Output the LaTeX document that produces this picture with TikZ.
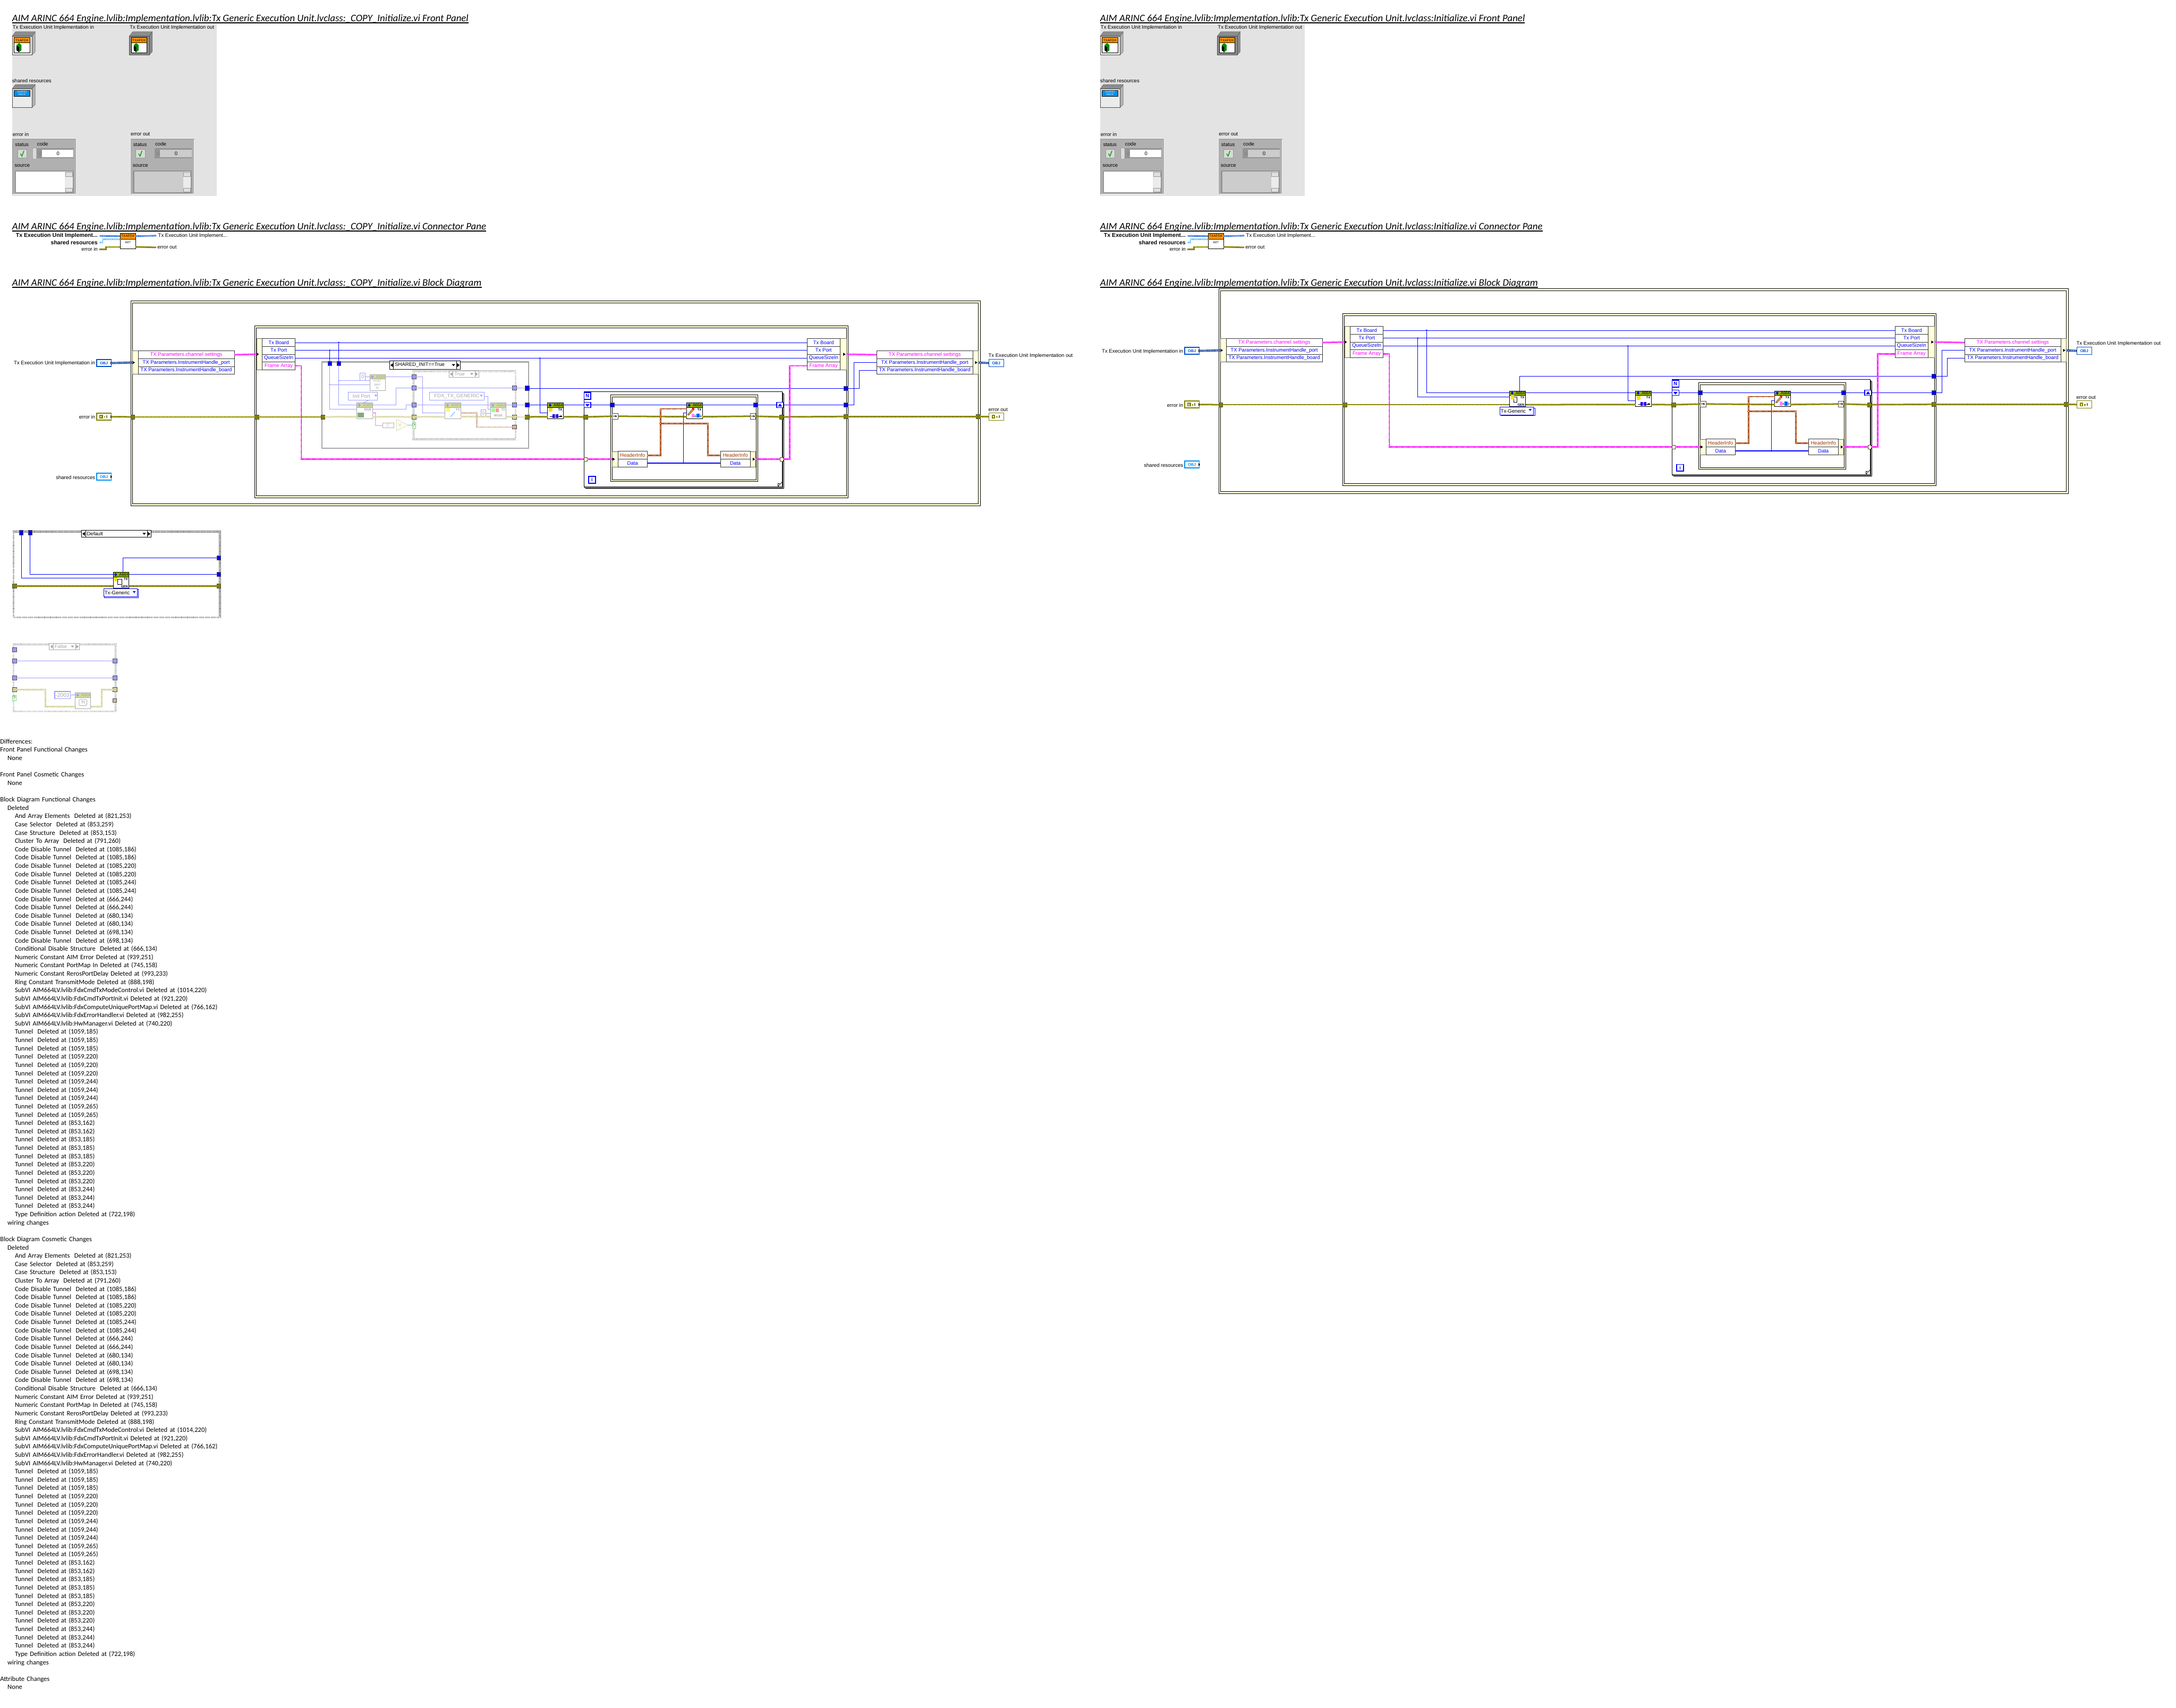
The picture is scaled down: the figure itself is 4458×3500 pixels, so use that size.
\documentclass[tikz,border=0pt]{standalone}
\usepackage{fontspec}
\setmainfont{Carlito}
\newfontfamily\lvfont{Liberation Sans}
\definecolor{lvblue}{HTML}{0000FF}
\definecolor{lvpale}{HTML}{9C9CFF}
\definecolor{lvpink}{HTML}{FF00FF}
\definecolor{lvbrown}{HTML}{A03C00}
\definecolor{lvolive}{HTML}{808000}
\definecolor{lvband}{HTML}{FFFFD8}
\definecolor{lvorange}{HTML}{FF9900}
\definecolor{lvgreen}{HTML}{8FB000}
\definecolor{lvgreenpale}{HTML}{D0DC98}
\definecolor{lvclass}{HTML}{0050D0}
\definecolor{lvshared}{HTML}{0090F0}
\definecolor{lvgrey}{HTML}{A8A8A8}
\definecolor{fpgrey}{HTML}{E3E3E3}
\definecolor{clustergrey}{HTML}{B0B0B0}
\definecolor{paleolive}{HTML}{D2D296}
\tikzset{
	every node/.style={inner sep=0pt,outer sep=0pt},
	titletext/.style={anchor=base west,font=\itshape\fontsize{20.5}{23}\selectfont},
	titleline/.style={black,line width=2pt},
	listtext/.style={anchor=north west,align=left,text width=700pt,font=\fontsize{13.7}{17}\selectfont},
	lvtext/.style={font=\lvfont\fontsize{10.4}{12}\selectfont},
	lvbold/.style={font=\lvfont\bfseries\fontsize{11.5}{13}\selectfont},
	cell/.style={draw=black!80,fill=white,line width=1pt,lvtext,anchor=north west,minimum width=#1pt,minimum height=16pt},
	strip/.style={draw=black!60,fill=lvband,line width=.6pt,anchor=north west,minimum width=#1pt},
	termobj/.style={draw=#1,text=#1,fill=white,line width=2pt,minimum width=30pt,minimum height=14pt,font=\lvfont\bfseries\fontsize{8}{9}\selectfont},
	termout/.style={draw=#1,text=#1,fill=white,line width=1pt,minimum width=31pt,minimum height=15pt,font=\lvfont\bfseries\fontsize{8}{9}\selectfont},
	tunnel/.style={draw=black!70,fill=#1,line width=.6pt,minimum width=8pt,minimum height=9pt},
	junc/.style={circle,fill=#1,minimum size=3.4pt},
	frameband/.style={draw=black,fill=lvband,line width=1pt},
	frameinner/.style={draw=black,fill=white,line width=1pt},
	hatchframe/.style={draw=#1,line width=3.8pt,fill=white,postaction={draw=white,line width=3pt,dash pattern=on 1.2pt off 1.2pt}},
	bluewire/.style={lvblue,line width=1pt},
	datawire/.style={lvblue,line width=2.2pt},
	palewire/.style={lvpale,line width=1pt},
	errwire/.style={draw=lvolive!85!black,line width=3pt,postaction={draw=yellow,line width=1pt,dash pattern=on 1pt off 1.5pt}},
	paleerr/.style={draw=paleolive,line width=3pt,postaction={draw=white,line width=1pt,dash pattern=on 1.5pt off 1.5pt}},
	clusterwire/.style={draw=lvpink,line width=3pt,postaction={draw=white,line width=1pt,dash pattern=on 1.5pt off 1.5pt}},
	palecluster/.style={draw=lvpink!40,line width=2.6pt,postaction={draw=white,line width=1pt,dash pattern=on 1.5pt off 1.5pt}},
	brownwire/.style={draw=lvbrown,line width=3pt,postaction={draw=white,line width=1pt,dash pattern=on 1.5pt off 1.5pt}},
	palebrown/.style={draw=lvbrown!40,line width=2.6pt,postaction={draw=white,line width=1pt,dash pattern=on 1.5pt off 1.5pt}},
	classwire/.style={draw=lvclass!70!black,line width=4pt,postaction={draw=white,line width=1.4pt,dash pattern=on 2pt off 1.5pt}},
	sharedwire/.style={draw=lvshared!60,line width=3pt,postaction={draw=white,line width=1pt,dash pattern=on 2pt off 1.5pt}},
	vibody/.style={draw=#1,fill=white,line width=1pt,anchor=north west,minimum width=32pt,minimum height=32pt},
	vihead/.style={font=\lvfont\fontsize{8}{9}\selectfont},
	visub/.style={font=\lvfont\bfseries\fontsize{6.5}{7.5}\selectfont},
	ringbox/.style={draw=#1,fill=white,line width=1.4pt,anchor=north west,minimum height=16pt},
	selbox/.style={draw=#1,fill=white,line width=1pt,anchor=north west},
	iterbox/.style={draw=lvblue,fill=white,line width=1.6pt,text=lvblue,font=\lvfont\bfseries\fontsize{10}{12}\selectfont},
	flipbox/.style={draw=black!70,fill=white,line width=.8pt,anchor=north west,minimum width=12pt,minimum height=12pt},
	arrowtip/.style={-{Stealth[length=3.5pt,width=4pt]},black,line width=1pt}
}
\usetikzlibrary{arrows.meta,calc}
% 32x32 subVI with its coloured head
\newcommand{\viblock}[6]{
	\node[vibody=#5] (#1) at (#2,#3) {};
	\fill[#4] (#1.north west) rectangle ++(32,9);
	\draw[#5,line width=1pt] (#1.north west) rectangle ++(32,9);
	\fill[#6] ($(#1.north west)+(2,4.5)$) -- ++(3,-3.2) -- ++(3,3.2) -- ++(-3,3.2) -- cycle;
	\node[vihead,text=#5,anchor=east] (#1h) at ($(#1.north east)+(-1,4.7)$) {A664};
}
% case selector with its two arrows
\newcommand{\casesel}[7]{
	\node[selbox=#7,minimum width=#4pt,minimum height=#5pt] (#1) at (#2,#3) {};
	\node[lvtext,anchor=west,text=#7] (#1t) at ($(#1.west)+(11,0)$) {#6};
	\draw[#7] ($(#1.north west)+(8,0)$) -- ($(#1.south west)+(8,0)$);
	\draw[#7] ($(#1.north east)+(-8,0)$) -- ($(#1.south east)+(-8,0)$);
	\fill[#7] ($(#1.west)+(2,0)$) -- ++(5,-4) -- ++(0,8) -- cycle;
	\fill[#7] ($(#1.east)+(-2,0)$) -- ++(-5,-4) -- ++(0,8) -- cycle;
	\fill[#7] ($(#1.east)+(-18,-2)$) -- ++(7,0) -- ++(-3.5,4) -- cycle;
}
\newcommand{\dntri}[3]{\fill[#3] (#1-3,#2-2) -- (#1+3,#2-2) -- (#1,#2+2) -- cycle;}
\newcommand{\termtip}[2]{\fill (#1.#2) ++(-1.5,-3) -- ++(3,3) -- ++(-3,3) -- cycle;}
\newcommand{\errglyph}[2]{
	\fill[#2] ($(#1.center)+(-9,-4)$) rectangle ++(7,8);
	\fill[white] ($(#1.center)+(-7,-2)$) rectangle ++(2,4);
	\fill[#2] ($(#1.center)+(0,-1)$) rectangle ++(3,3);
	\fill[#2] ($(#1.center)+(5,-3)$) rectangle ++(2,6);
}
% front panel box with one icon
\newcommand{\boxctl}[4]{
	\draw[black!70,fill=black!45] (#1,#2+9) -- (#1+7,#2) -- (#1+47,#2) -- (#1+41,#2+9) -- cycle;
	\draw[black!70,fill=#4] (#1+41,#2+9) -- (#1+47,#2) -- (#1+47,#2+41) -- (#1+41,#2+47) -- cycle;
	\draw[black!70,fill=#3] (#1,#2+9) rectangle (#1+41,#2+47);
}
\newcommand{\txicon}[2]{
	\node[draw=black,fill=white,line width=.8pt,anchor=north west,minimum width=32pt,minimum height=31pt] (#2) at (#1+4,77) {};
	\node[draw=black,fill=lvorange,line width=.8pt,anchor=north west,minimum width=32pt,minimum height=11pt,font=\lvfont\fontsize{7}{8}\selectfont] (#2h) at (#1+4,77) {TXAFDX};
	\fill[green!55!black] (#1+9,92) -- (#1+14,88.5) -- (#1+19,92) -- (#1+19,103) -- (#1+14,107) -- (#1+9,103) -- cycle;
	\fill[black] (#1+9,94) -- (#1+14,96.5) -- (#1+14,107) -- (#1+9,103) -- cycle;
}
% error cluster of the front panel
\newcommand{\errcluster}[4]{
	\node[lvtext,anchor=west] (#4lbl) at (#1+1,275) {#3};
	\draw[black!5,fill=clustergrey,line width=1.5pt] (#1,284) rectangle (#1+131,398);
	\draw[black!35,line width=1.5pt] (#1+1,398) -- (#1+1,285) -- (#1+131,285);
	\node[lvtext,anchor=west] (#4st) at (#1+6,296) {status};
	\node[lvtext,anchor=west] (#4cd) at (#1+51,295) {code};
	\node[draw=black!40,fill=black!15,anchor=north west,minimum width=19pt,minimum height=17pt] (#4chk) at (#1+11,306) {};
	\draw[green!65!black,line width=1.6pt] (#1+17,315) -- (#1+20,320) -- (#1+24,309);
	\fill[black!42] (#1+50,304) rectangle (#1+126,324);
	\node[fill=#2,anchor=north west,minimum width=65pt,minimum height=15pt,lvtext,align=left] (#4num) at (#1+60.5,307) {\,0};
	\node[lvtext,text=black!50,anchor=east] (#4d) at (#1+60,314.5) {d};
	\node[lvtext,anchor=west] (#4src) at (#1+5,340) {source};
	\fill[black!42] (#1+5,349) rectangle (#1+126,396);
	\fill[#2] (#1+8,352) rectangle (#1+108,394);
	\fill[black!8] (#1+108,352) rectangle (#1+124,394);
	\draw[black!40,fill=black!12] (#1+109,353) rectangle (#1+123,361);
	\draw[black!40,fill=black!12] (#1+109,385) rectangle (#1+123,393);
}
\newcommand{\rw}[1]{\hspace*{30pt}#1\\}
\newcommand{\cdt}[1]{\rw{Code Disable Tunnel~ Deleted at (#1)}\rw{Code Disable Tunnel~ Deleted at (#1)}}
\newcommand{\tun}[1]{\rw{Tunnel~ Deleted at (#1)}}
\newcommand{\delrows}{%
	\hspace*{15pt}Deleted\\
	\rw{And Array Elements~ Deleted at (821,253)}
	\rw{Case Selector~ Deleted at (853,259)}
	\rw{Case Structure~ Deleted at (853,153)}
	\rw{Cluster To Array~ Deleted at (791,260)}
	\cdt{1085,186}\cdt{1085,220}\cdt{1085,244}\cdt{666,244}\cdt{680,134}\cdt{698,134}
	\rw{Conditional Disable Structure~ Deleted at (666,134)}
	\rw{Numeric Constant AIM Error Deleted at (939,251)}
	\rw{Numeric Constant PortMap In Deleted at (745,158)}
	\rw{Numeric Constant RerosPortDelay Deleted at (993,233)}
	\rw{Ring Constant TransmitMode Deleted at (888,198)}
	\rw{SubVI AIM664LV.lvlib:FdxCmdTxModeControl.vi Deleted at (1014,220)}
	\rw{SubVI AIM664LV.lvlib:FdxCmdTxPortInit.vi Deleted at (921,220)}
	\rw{SubVI AIM664LV.lvlib:FdxComputeUniquePortMap.vi Deleted at (766,162)}
	\rw{SubVI AIM664LV.lvlib:FdxErrorHandler.vi Deleted at (982,255)}
	\rw{SubVI AIM664LV.lvlib:HwManager.vi Deleted at (740,220)}
	\tun{1059,185}\tun{1059,185}\tun{1059,185}
	\tun{1059,220}\tun{1059,220}\tun{1059,220}
	\tun{1059,244}\tun{1059,244}\tun{1059,244}
	\tun{1059,265}\tun{1059,265}
	\tun{853,162}\tun{853,162}
	\tun{853,185}\tun{853,185}\tun{853,185}
	\tun{853,220}\tun{853,220}\tun{853,220}
	\tun{853,244}\tun{853,244}\tun{853,244}
	\rw{Type Definition action Deleted at (722,198)}
	\hspace*{15pt}wiring changes\\
}
\begin{document}
\begin{tikzpicture}[x=1pt,y=-1pt]
	\useasboundingbox (0,0) rectangle (4458,3500);

	% titles
	\foreach \tx/\cpy/\tv in {25/{:\_COPY\_}/a,2254/{:}/b}{
		\foreach \ty/\what/\ts in {44/Front Panel/f,471/Connector Pane/c,586.4/Block Diagram/d}{
			\node[titletext] (title\ts\tv) at (\tx,\ty) {AIM ARINC 664 Engine.lvlib:Implementation.lvlib:Tx Generic Execution Unit.lvclass\cpy Initialize.vi \what};
			\draw[titleline] ([yshift=-2.6pt]title\ts\tv.base west) -- ([yshift=-2.6pt]title\ts\tv.base east);
		}
	}

	% front panel and connector pane, same on both sides
	\foreach \ox/\vn in {0/a,2229/b}{
	\begin{scope}[xshift=\ox pt]
		\fill[fpgrey] (25,49) rectangle (444,402);
		\node[lvtext,anchor=west] (fptxin\vn) at (26,57) {Tx Execution Unit Implementation in};
		\node[lvtext,anchor=west] (fptxout\vn) at (266,57) {Tx Execution Unit Implementation out};
		\boxctl{25}{65}{black!8}{black!30}
		\txicon{25}{icona\vn}
		\boxctl{265}{65}{black!45}{black!45}
		\txicon{265}{iconb\vn}
		\node[lvtext,anchor=west] (fpshared\vn) at (25,165) {shared resources};
		\boxctl{25}{173}{black!8}{black!30}
		\node[draw=black,fill=lvshared,text=white,anchor=north west,minimum width=32pt,minimum height=12pt,align=center,font=\lvfont\fontsize{5}{5.4}\selectfont] (iconshared\vn) at (29,185) {SHARED\\RSCS};
		\errcluster{25}{white}{error in}{erri\vn}
		\errcluster{267}{black!20}{error out}{erro\vn}
		\draw[black!45,fill=black!15,rounded corners=2pt] (67,303) rectangle (75,326);
		% connector pane
		\node[lvbold,anchor=east] (cptxin\vn) at (200,483) {Tx Execution Unit Implement...};
		\node[lvbold,anchor=east] (cpshared\vn) at (200,497) {shared resources};
		\node[lvtext,anchor=east] (cperrin\vn) at (200,511) {error in};
		\node[lvtext,anchor=west] (cptxout\vn) at (324,483) {Tx Execution Unit Implement...};
		\node[lvtext,anchor=west] (cperrout\vn) at (322.5,507) {error out};
		\node[draw=black,fill=white,line width=1pt,anchor=north west,minimum width=32pt,minimum height=32pt,font=\lvfont\fontsize{6}{7}\selectfont] (cpicon\vn) at (246,478) {\raisebox{-9pt}{INIT}};
		\node[draw=black,fill=lvorange,line width=1pt,anchor=north west,minimum width=32pt,minimum height=12pt,font=\lvfont\fontsize{7}{8}\selectfont] (cphead\vn) at (246,478) {TXAFDX};
		\draw[classwire,line width=3pt,draw=lvclass] ([yshift=-.5pt]cptxin\vn.east) ++(4,0) -- (cphead\vn.west);
		\draw[classwire,line width=3pt,draw=lvclass] (cphead\vn.east) -- ([xshift=-4pt]cptxout\vn.west);
		\draw[sharedwire] ([xshift=3.5pt]cpshared\vn.east) -| (210,490) -- ([yshift=-12pt]cpicon\vn.north west);
		\draw[errwire] ([xshift=3.5pt]cperrin\vn.east) -| (217.5,506) -- ([yshift=-28pt]cpicon\vn.north west);
		\draw[errwire] ([yshift=-28pt]cpicon\vn.north east) -- ([xshift=-2.5pt]cperrout\vn.west);
	\end{scope}
	}

	% block diagram, what both versions share
	\foreach \ox/\oy/\vn/\ex/\es/\px/\bx in {0/0/a/658/1080/1080/1080,2229/25/b/864/896/884/896}{
	\begin{scope}[xshift=\ox pt,yshift=\oy pt]
		\draw[frameband] (268,617) rectangle (2009,1037);
		\draw[frameinner] (271.5,621) rectangle (2004,1032.5);
		\draw[frameband] (522,668) rectangle (1738,1020.7);
		\draw[frameinner] (525.5,672) rectangle (1734,1016);
		\coordinate (errstop\vn) at (\ex,854.3);
		\coordinate (errstart\vn) at (\es,854.3);
		\coordinate (portout\vn) at (\px,796);
		\coordinate (boardout\vn) at (\bx,830);

		\node[lvtext,anchor=east] (lbltxin\vn) at (195,745) {Tx Execution Unit Implementation in};
		\node[termobj=lvclass] (termtxin\vn) at (213,744) {OBJ};
		\node[lvtext,anchor=east] (lblerrin\vn) at (195,855) {error in};
		\node[termobj=lvolive] (termerrin\vn) at (213,854) {};
		\errglyph{termerrin\vn}{lvolive}
		\node[lvtext,anchor=east] (lblshared\vn) at (195,978) {shared resources};
		\node[termobj=lvshared] (termshared\vn) at (213,977) {OBJ};
		\node[lvtext,anchor=west] (lbltxout\vn) at (2025,729) {Tx Execution Unit Implementation out};
		\node[termout=lvclass] (termtxout\vn) at (2041,744) {OBJ};
		\node[lvtext,anchor=west] (lblerrout\vn) at (2025,840) {error out};
		\node[termout=lvolive] (termerrout\vn) at (2041,854) {};
		\errglyph{termerrout\vn}{lvolive}
		\termtip{termtxin\vn}{east}
		\termtip{termerrin\vn}{east}
		\termtip{termshared\vn}{east}

		% unbundle and bundle blocks
		\node[strip=12,minimum height=48pt] (stripa\vn) at (271.5,719) {};
		\node[cell=197,text=lvpink] (chan\vn) at (283,719) {TX Parameters.channel settings};
		\node[cell=197,text=lvblue] (hport\vn) at (283,735) {TX Parameters.InstrumentHandle\_port};
		\node[cell=197,text=lvblue] (hboard\vn) at (283,751) {TX Parameters.InstrumentHandle\_board};
		\node[strip=12,minimum height=64pt] (stripb\vn) at (525.5,694) {};
		\node[cell=68,text=lvblue] (board\vn) at (537,694) {Tx Board};
		\node[cell=68,text=lvblue] (port\vn) at (537,710) {Tx Port};
		\node[cell=68,text=lvblue] (queue\vn) at (537,726) {QueueSizeIn};
		\node[cell=68,text=lvpink] (frames\vn) at (537,742) {Frame Array};
		\node[strip=13,minimum height=64pt] (stripc\vn) at (1721,694) {};
		\node[cell=67.5,text=lvblue] (boardr\vn) at (1653.5,694) {Tx Board};
		\node[cell=67.5,text=lvblue] (portr\vn) at (1653.5,710) {Tx Port};
		\node[cell=67.5,text=lvblue] (queuer\vn) at (1653.5,726) {QueueSizeIn};
		\node[cell=67.5,text=lvpink] (framesr\vn) at (1653.5,742) {Frame Array};
		\node[strip=11,minimum height=48pt] (stripd\vn) at (1993,719) {};
		\node[cell=197,text=lvpink] (chanr\vn) at (1796,719) {TX Parameters.channel settings};
		\node[cell=197,text=lvblue] (hportr\vn) at (1796,735) {TX Parameters.InstrumentHandle\_port};
		\node[cell=197,text=lvblue] (hboardr\vn) at (1796,751) {TX Parameters.InstrumentHandle\_board};
		\foreach \ax/\ay in {274/743,528/726,1730/726,2000/743}{
			\fill (\ax-2.5,\ay-3) -- (\ax+2.5,\ay) -- (\ax-2.5,\ay+3) -- cycle;
		}

		% for loop with the frame inside
		\foreach \d in {4,2,0}{
			\draw[black,fill=white,line width=.8pt] (1196+\d,803+\d) rectangle (1602+\d,997+\d);
		}
		\draw[black,line width=.8pt] (1594,997) -- (1602,988);
		\draw[black,line width=.8pt] (1594,997) -- (1594,990.5) -- (1598,990.5);
		\draw[frameband] (1250.5,809) rectangle (1553,987);
		\draw[frameinner] (1254,813) rectangle (1549,983);

		\node[tunnel=lvolive] (tunerra\vn) at (272,854.3) {};
		\node[tunnel=lvolive] (tunerrb\vn) at (526,854.3) {};
		\node[tunnel=lvolive] (tunerrc\vn) at (1199.5,854.3) {};
		\node[tunnel=lvolive] (tunerrd\vn) at (1601,854.3) {};
		\node[tunnel=lvolive] (tunerre\vn) at (1733,853.6) {};
		\node[tunnel=lvolive] (tunerrf\vn) at (2004,853.6) {};
		\node[tunnel=lvblue] (tunport\vn) at (1733,796) {};
		\node[tunnel=lvblue] (tunboard\vn) at (1733,830) {};
		\node[tunnel=lvblue] (tunl\vn) at (1254,830) {};
		\node[tunnel=lvblue] (tunr\vn) at (1548,830) {};
		\node[junc=lvblue] (jqueue\vn) at (1106,734) {};
		\node[draw=black!70,fill=lvband,line width=.6pt,minimum width=7pt,minimum height=8pt] (arrl\vn) at (1199.5,941) {};
		\node[draw=black!70,fill=lvband,line width=.6pt,minimum width=7pt,minimum height=8pt] (arrr\vn) at (1601,941) {};
		\node[strip=12,minimum height=32pt] (stripe\vn) at (1254,925) {};
		\node[cell=60,text=lvbrown] (hdrl\vn) at (1266,925) {HeaderInfo};
		\node[cell=60,text=lvblue] (datal\vn) at (1266,941) {Data};
		\node[strip=11,minimum height=32pt] (stripf\vn) at (1537,925) {};
		\node[cell=61,text=lvbrown] (hdrr\vn) at (1476,925) {HeaderInfo};
		\node[cell=61,text=lvblue] (datar\vn) at (1476,941) {Data};
		\foreach \ax/\ay in {1257.5/941,1544.5/941}{
			\fill (\ax-2.5,\ay-3) -- (\ax+2.5,\ay) -- (\ax-2.5,\ay+3) -- cycle;
		}
		\node[flipbox] (sregl\vn) at (1254,847) {};
		\node[flipbox,minimum width=11pt] (sregr\vn) at (1537,847) {};

		% wires
		\coordinate (jhead\vn) at (1353,868);
		\coordinate (jdata\vn) at (1400,949);
		\viblock{txq\vn}{1122}{826}{lvgreen}{black}{lvblue}
		\viblock{wr\vn}{1407}{826}{lvgreen}{black}{lvblue}
		\node[iterbox,minimum width=14pt,minimum height=14pt] (iterN\vn) at (1203.5,811.5) {N};
		\node[iterbox,minimum width=14pt,minimum height=11pt] (srdn\vn) at (1203.5,830) {};
		\node[iterbox,minimum width=14pt,minimum height=11pt] (srup\vn) at (1598,830) {};
		\node[iterbox,minimum width=14pt,minimum height=14pt] (iteri\vn) at (1213,983.5) {i};
		\fill[lvblue] (1199,828) -- (1208,828) -- (1203.5,833.5) -- cycle;
		\fill[lvblue] (1593.5,833) -- (1602.5,833) -- (1598,827) -- cycle;
		\draw[classwire] (termtxin\vn.east) -- (stripa\vn.west);
		\draw[classwire] (stripd\vn.east) -- (termtxout\vn.west);
		\draw[bluewire] (board\vn.east) -- (boardr\vn.west);
		\draw[bluewire] (port\vn.east) -- (portr\vn.west);
		\draw[bluewire] (queue\vn.east) -- (queuer\vn.west);
		\draw[bluewire] (jqueue\vn) |- ([yshift=-20pt]txq\vn.north west);
		\draw[bluewire] (portout\vn) -- (tunport\vn.west);
		\draw[bluewire] (tunport\vn.east) -| (1760,759) -- (hboardr\vn.west);
		\draw[bluewire] (boardout\vn) -- ([yshift=-4pt]txq\vn.north west);
		\draw[bluewire] ([yshift=-4pt]txq\vn.north east) -- (srdn\vn.west);
		\draw[bluewire] (srdn\vn.east) -- (tunl\vn.west);
		\draw[bluewire] (tunl\vn.east) -- ([yshift=-4pt]wr\vn.north west);
		\draw[bluewire] ([yshift=-4pt]wr\vn.north east) -- (tunr\vn.west);
		\draw[bluewire] (tunr\vn.east) -- (srup\vn.west);
		\draw[bluewire] (srup\vn.east) -- (tunboard\vn.west);
		\draw[bluewire] (tunboard\vn.east) -| (1749,743) -- (hportr\vn.west);
		\draw[errwire] (termerrin\vn.east) -- (tunerra\vn.west);
		\draw[errwire] (tunerra\vn.east) -- (tunerrb\vn.west);
		\draw[errwire] (tunerrb\vn.east) -- (errstop\vn);
		\draw[errwire] (errstart\vn) -- ([yshift=-28pt]txq\vn.north west);
		\draw[errwire] ([yshift=-28pt]txq\vn.north east) -- (tunerrc\vn.west);
		\draw[errwire] (tunerrc\vn.east) -- (sregl\vn.west);
		\draw[errwire] (sregl\vn.east) -- ([yshift=-28pt]wr\vn.north west);
		\draw[errwire] ([yshift=-28pt]wr\vn.north east) -- (sregr\vn.west);
		\draw[errwire] (sregr\vn.east) -- (tunerrd\vn.west);
		\draw[errwire] (tunerrd\vn.east) -- (tunerre\vn.west);
		\draw[errwire] (tunerre\vn.east) -- (tunerrf\vn.west);
		\draw[errwire] (tunerrf\vn.east) -- (termerrout\vn.west);
		\draw[clusterwire] (chan\vn.east) -- (stripb\vn.west);
		\draw[clusterwire] (frames\vn.east) -| (617,941) -- (arrl\vn.west);
		\draw[clusterwire] (arrl\vn.east) -- (stripe\vn.west);
		\draw[clusterwire] (stripf\vn.east) -- (arrr\vn.west);
		\draw[clusterwire] (arrr\vn.east) -| (1618,750) -- (framesr\vn.west);
		\draw[clusterwire] (stripc\vn.east) -- (chanr\vn.west);
		\draw[brownwire] (hdrl\vn.east) -| (1353,838) -- ([yshift=-12pt]wr\vn.north west);
		\draw[brownwire] (jhead\vn) -| (1450,933) -- (hdrr\vn.west);
		\draw[datawire] (datal\vn.east) -- (datar\vn.west);
		\draw[bluewire,line width=1.6pt] (jdata\vn) |- ([yshift=-20pt]wr\vn.north west);
		\node[junc=lvblue] (jdatb\vn) at (jdata\vn) {};
		\node[draw=lvbrown,fill=white,line width=.8pt,circle,minimum size=4pt] (jhedb\vn) at (jhead\vn) {};
		\draw[arrowtip] (sregl\vn.west) ++(2,0) -- ++(8,0);
		\draw[arrowtip] (sregr\vn.west) ++(2,0) -- ++(8,0);
		% glyphs on the two subVIs
		\node[visub,anchor=east] (txqtx\vn) at ([xshift=-2pt,yshift=-14pt]txq\vn.north east) {TX};
		\node[visub,anchor=east] (wrtx\vn) at ([xshift=-2pt,yshift=-14pt]wr\vn.north east) {TX};
		\fill[yellow!85!orange] (1124,836) rectangle ++(8,8);
		\draw[black] (1127,853) -- (1152,853);
		\fill[lvblue] (1132,849) rectangle ++(12,8);
		\fill[lvpink!70] (1136,849) rectangle ++(3,8);
		\draw[arrowtip] (1146,853) -- (1152,853);
		\fill[lvorange!70!white,draw=black,line width=.5pt] (1409,849) -- (1419,838) -- (1421,840) -- (1411,851) -- cycle;
		\fill[red] (1417,838) -- (1420,835) -- (1423,838) -- (1421,840) -- cycle;
		\fill[lvpink!50] (1417,848) rectangle ++(5,8);
		\draw[black] (1422,852) -- (1438,852);
		\fill[lvshared!80] (1426,848) rectangle ++(8,8);
		\fill[lvblue] (1429,848) rectangle ++(2,8);
	\end{scope}
	}

	% left version: disable structure with its subVIs
	\begin{scope}
		\draw[lvgrey,fill=white,line width=3pt] (659.5,741.5) rectangle (1083,918.5);
		\draw[hatchframe=black!25] (846.5,761) rectangle (1056.5,900);
		\casesel{selshared}{798}{740}{145.5}{16.5}{SHARED\_INIT==True}{black}
		\casesel{seltrue}{920}{760}{61}{13}{True}{black!35}

		\node[tunnel=lvblue] (casep) at (675.5,744.5) {};
		\node[tunnel=lvblue] (caseb) at (694,744.5) {};
		\node[junc=lvblue] (jcasep) at (675.5,718) {};
		\node[junc=lvblue] (jcaseb) at (694,702) {};
		\node[junc=lvpale] (jpalep) at (675.5,788) {};
		\node[junc=lvpale] (jpaleb) at (694,780) {};
		\node[tunnel=lvolive] (caseerr) at (661.5,854.3) {};
		\foreach \tn/\ty in {a/772,b/795,c/830}{
			\node[tunnel=lvpale] (tinl\tn) at (848,\ty) {};
		}
		\foreach \tn/\ty in {b/795,c/830}{
			\node[tunnel=lvpale] (tinr\tn) at (1054,\ty) {};
		}
		\node[tunnel=paleolive] (tinle) at (848,854.3) {};
		\node[tunnel=paleolive] (tinre) at (1054,854.3) {};
		\node[tunnel=lvbrown!40,minimum height=8pt] (tinrs) at (1054,875) {};
		\node[draw=green!60!black!50,fill=white,minimum width=6pt,minimum height=12pt,text=green!50!black,lvtext] (tinq) at (848,871.5) {?};
		\node[tunnel=lvblue] (outport) at (1080,795.5) {};
		\node[tunnel=lvblue] (outboard) at (1080,830) {};
		\node[tunnel=lvolive] (outerr) at (1080,854.3) {};

		\node[draw=lvpale,fill=white,line width=1.4pt,text=black!35,lvtext,minimum width=11pt,minimum height=15pt] (numport) at (743,772) {0};
		\viblock{pmap}{757.6}{768}{lvgreenpale}{black!35}{lvpale}
		\node[visub,text=black!35,align=center,font=\lvfont\fontsize{6}{7}\selectfont] (pmapt) at (773,788.5) {PORT\\MAP\\ID};
		\node[ringbox=lvpale,minimum width=60pt,text=black!35,lvtext] (ringinit) at (713.5,804) {\hspace*{-6pt}Init Port};
		\dntri{770}{811}{lvpale}
		\viblock{mgr}{731}{826}{lvgreenpale}{black!35}{lvpale}
		\node[visub,text=black!35,anchor=east] (mgrt) at ([xshift=-2pt,yshift=-14pt]mgr.north east) {MGR};
		\fill[green!35!black!50] (733,846) rectangle ++(13,9);
		\viblock{txi}{912}{826}{lvgreenpale}{black!35}{lvpale}
		\node[visub,text=black!35,anchor=east] (txit) at ([xshift=-2pt,yshift=-14pt]txi.north east) {TX};
		\fill[yellow!60] (914,836) rectangle ++(8,8);
		\draw[lvshared!50,line width=1.5pt] (923,854) -- (932,844);
		\viblock{mode}{1005}{826}{lvgreenpale}{black!35}{lvpale}
		\node[visub,text=black!35,font=\lvfont\bfseries\fontsize{6}{7}\selectfont] (modet) at (1021,851.5) {MODE};
		\node[visub,text=black!35,anchor=east] (modetx) at ([xshift=-2pt,yshift=-14pt]mode.north east) {TX};
		\fill[green!40!white] (1007,837) rectangle ++(7,8);
		\fill[red!40!white] (1015,837) rectangle ++(7,8);
		\node[ringbox=lvpale,minimum width=112pt,text=black!35,lvtext] (ringfdx) at (880,804) {FDX\_TX\_GENERIC};
		\dntri{986}{811}{lvpale}
		\node[draw=lvpale,fill=white,line width=1.4pt,text=black!35,lvtext,minimum width=10pt,minimum height=15pt] (nummode) at (990.5,847) {0};
		\node[draw=black!30,fill=white,text=black!30,minimum width=23pt,minimum height=10pt,font=\lvfont\fontsize{7}{8}\selectfont] (c2arr) at (795,871.5) {[\,]};
		\draw[black!30,fill=lvband!60!white] (812,859) -- (836,871) -- (812,883) -- cycle;
		\node[text=black!35] (andall) at (819.5,871) {$\forall$};
		\coordinate (andout) at (836,871);

		\draw[bluewire] (jcasep) -- (casep);
		\draw[bluewire] (jcaseb) -- (caseb);
		\draw[palewire] (casep) |- ([yshift=-12pt]mgr.north west);
		\draw[palewire] (caseb) |- ([yshift=-4pt]mgr.north west);
		\draw[palewire] (jpalep) -- ([yshift=-20pt]pmap.north west);
		\draw[palewire] (jpaleb) -- ([yshift=-12pt]pmap.north west);
		\draw[palewire] (numport.east) -- ([yshift=-4pt]pmap.north west);
		\draw[palewire] ([yshift=-4pt]pmap.north east) -- (tinla.west);
		\draw[palewire] (ringinit.south) ++(12,0) -- ([xshift=12.6pt]mgr.north west);
		\draw[palewire] ([yshift=-4pt]mgr.north east) -| (811.6,795) -- (tinlb.west);
		\draw[palewire] ([yshift=-12pt]mgr.north east) -| (832,830) -- (tinlc.west);
		\draw[palewire] (tinla.east) -| (866,846) -- ([yshift=-20pt]txi.north west);
		\draw[palewire] (tinlb.east) -- (tinrb.west);
		\draw[palewire] (tinrb.east) -- (outport.west);
		\draw[palewire] (tinlc.east) -- ([yshift=-4pt]txi.north west);
		\draw[palewire] ([yshift=-4pt]txi.north east) -- ([yshift=-4pt]mode.north west);
		\draw[palewire] ([yshift=-4pt]mode.north east) -- (tinrc.west);
		\draw[palewire] (tinrc.east) -- (outboard.west);
		\draw[palewire] (ringfdx.east) -| (1000,838) -- ([yshift=-12pt]mode.north west);
		\draw[palewire] (nummode.east) -- ([yshift=-21pt]mode.north west);
		\draw[palewire] (andout) -- (tinq.west);
		\draw[paleerr] (caseerr.east) -- ([yshift=-28pt]mgr.north west);
		\draw[paleerr] ([yshift=-28pt]mgr.north east) -- (tinle.west);
		\draw[paleerr] (tinle.east) -- ([yshift=-28pt]txi.north west);
		\draw[paleerr] ([yshift=-28pt]txi.north east) -- ([yshift=-28pt]mode.north west);
		\draw[paleerr] ([yshift=-28pt]mode.north east) -- (tinre.west);
		\draw[paleerr] (tinre.east) -- (outerr.west);
		\draw[palecluster] ([yshift=-20pt]mgr.north east) -| (769.5,871.5) -- (c2arr.west);
		\draw[palebrown] ([yshift=-20pt]txi.north east) -| (977,875) -- (tinrs.west);
	\end{scope}

	% right version: one subVI in place of the structure
	\begin{scope}[xshift=2229pt,yshift=25pt]
		\viblock{gen}{864}{826}{lvgreen}{black}{lvblue}
		\node[visub,anchor=east] (gentx) at ([xshift=-2pt,yshift=-14pt]gen.north east) {TX};
		\node[visub,anchor=south east] (gengen) at ([xshift=-2pt,yshift=1pt]gen.south east) {GEN};
		\draw[black,fill=white] (872,838) rectangle ++(7,11);
		\fill[yellow!85!orange] (866,835) rectangle ++(7,8);
		\node[junc=lvblue] (jgenp) at (675.5,718) {};
		\node[junc=lvblue] (jgenb) at (693.5,702) {};
		\draw[bluewire] (jgenp) |- ([yshift=-12pt]gen.north west);
		\draw[bluewire] (jgenb) |- ([yshift=-4pt]gen.north west);
		\draw[bluewire] ([xshift=20pt]gen.north west) -- (portoutb);
		\draw[lvblue,fill=white,line width=1pt] (846,861) rectangle (915.5,877);
		\node[ringbox=lvblue,minimum width=68pt,lvtext,line width=1pt] (ringgen) at (844,859) {\hspace*{-14pt}Tx-Generic};
		\dntri{906}{865}{lvblue}
	\end{scope}

	% default case
	\draw[hatchframe=black!50] (27.5,1089.5) rectangle (450.5,1265);
	\casesel{seldefault}{167}{1087}{143}{14}{Default}{black}
	\viblock{gendef}{232}{1173}{lvgreen}{black}{lvblue}
	\node[visub,anchor=east] (gendeftx) at ([xshift=-2pt,yshift=-14pt]gendef.north east) {TX};
	\node[visub,anchor=south east] (gendefgen) at ([xshift=-2pt,yshift=1pt]gendef.south east) {GEN};
	\draw[black,fill=white] (241,1186) rectangle ++(8,11);
	\fill[yellow!85!orange] (234,1183) rectangle ++(7,8);
	\draw[lvblue,fill=white,line width=1pt] (214,1208) rectangle (283.5,1225);
	\node[ringbox=lvblue,minimum width=69pt,minimum height=16.5pt,lvtext,line width=1pt] (ringdef) at (212.5,1206.5) {\hspace*{-14pt}Tx-Generic};
	\dntri{275}{1213.5}{lvblue}
	\node[tunnel=lvblue] (deftopa) at (43.5,1091.5) {};
	\node[tunnel=lvblue] (deftopb) at (61.5,1091.5) {};
	\node[tunnel=lvblue] (defrta) at (448.5,1143) {};
	\node[tunnel=lvblue] (defrtb) at (448.5,1177) {};
	\node[tunnel=lvolive] (deferrl) at (29.5,1201) {};
	\node[tunnel=lvolive] (deferrr) at (448.5,1201) {};
	\draw[bluewire] (deftopa) |- ([yshift=-12pt]gendef.north west);
	\draw[bluewire] (deftopb) |- ([yshift=-4pt]gendef.north west);
	\draw[bluewire] ([yshift=-4pt]gendef.north east) -- (defrtb.west);
	\draw[bluewire] ([xshift=20pt]gendef.north west) |- (defrta.west);
	\draw[errwire] (deferrl.east) -- ([yshift=-28pt]gendef.north west);
	\draw[errwire] ([yshift=-28pt]gendef.north east) -- (deferrr.west);

	% false case
	\draw[hatchframe=black!25] (27.5,1320) rectangle (237.5,1458);
	\casesel{selfalse}{101}{1318}{62}{14}{False}{black!35}
	\node[tunnel=lvpale] (ftopa) at (29.5,1331) {};
	\foreach \tn/\ty in {b/1354,c/1389}{
		\node[tunnel=lvpale] (fl\tn) at (29.5,\ty) {};
		\node[tunnel=lvpale] (fr\tn) at (235.5,\ty) {};
		\draw[palewire] (fl\tn.east) -- (fr\tn.west);
	}
	\node[tunnel=paleolive] (flerr) at (29.5,1413) {};
	\node[tunnel=paleolive] (frerr) at (235.5,1413) {};
	\node[draw=green!60!black!50,fill=white,minimum width=7pt,minimum height=11pt,text=green!50!black,lvtext] (fsel) at (29,1430) {?};
	\node[tunnel=lvbrown!40,minimum height=8pt] (fstat) at (235,1435) {};
	\viblock{ferr}{154}{1420}{lvgreenpale}{black!35}{lvpale}
	\draw[black!35,line width=.8pt,rounded corners=2pt] (162,1433) rectangle (178,1446);
	\node[text=black!35,font=\lvfont\bfseries\fontsize{9}{10}\selectfont] (fbang) at (170,1439) {?!};
	\node[draw=lvpale,fill=white,line width=1.6pt,text=black!35,font=\lvfont\fontsize{11}{13}\selectfont,minimum width=32pt,minimum height=15pt] (fnum) at (128,1424.5) {-2003};
	\draw[palewire] (fnum.east) -- ([yshift=-4pt]ferr.north west);
	\draw[paleerr] (flerr.east) -| (93.3,1448) -- ([yshift=-28pt]ferr.north west);
	\draw[paleerr] ([yshift=-28pt]ferr.north east) -| (208.3,1413) -- (frerr.west);

	% text of the differences
	\node[listtext] (difflist) at (.5,1514.5) {%
		Differences:\\
		Front Panel Functional Changes\\
		\hspace*{15pt}None\\
		\mbox{}\\
		Front Panel Cosmetic Changes\\
		\hspace*{15pt}None\\
		\mbox{}\\
		Block Diagram Functional Changes\\
		\delrows
		\mbox{}\\
		Block Diagram Cosmetic Changes\\
		\delrows
		\mbox{}\\
		Attribute Changes\\
		\hspace*{15pt}None};
\end{tikzpicture}
\end{document}
